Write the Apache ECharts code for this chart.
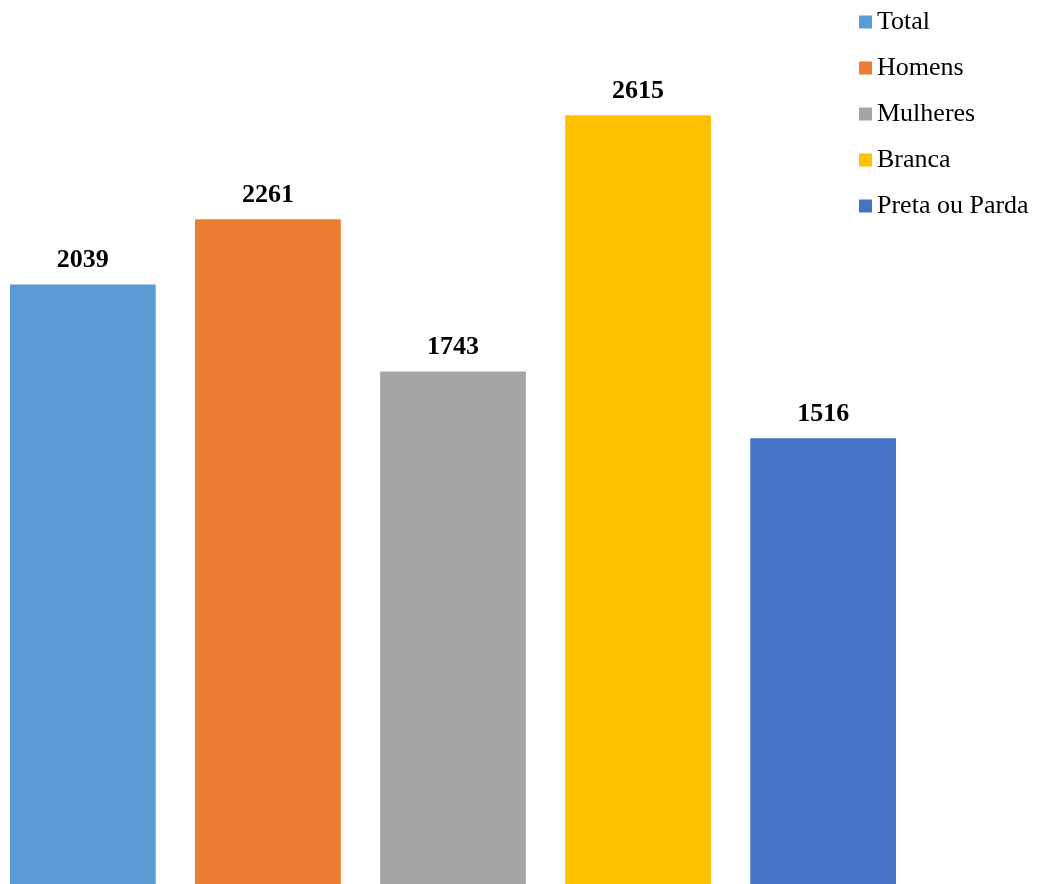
<!DOCTYPE html>
<html>
<head>
<meta charset="utf-8">
<script src="https://cdn.jsdelivr.net/npm/echarts@6/dist/echarts.min.js"></script>
<style>
  html, body { margin: 0; padding: 0; background: #ffffff; }
  #chart { width: 1043px; height: 884px; }
</style>
</head>
<body>
<div id="chart"></div>
<script>
// dados do gráfico
const seriesNames = ['Total', 'Homens', 'Mulheres', 'Branca', 'Preta ou Parda'];
const seriesValues = [2039, 2261, 1743, 2615, 1516];
const seriesColors = ['#5b9bd5', '#ed7d31', '#a5a5a5', '#ffc000', '#4472c4'];
const categories = [''];

const chart = echarts.init(document.getElementById('chart'));

const series = seriesNames.map(function (name, i) {
  return {
    name: name,
    type: 'bar',
    data: [seriesValues[i]],
    barGap: '27%',
    barCategoryGap: '0%',
    itemStyle: { color: seriesColors[i] },
    label: {
      show: true,
      position: 'top',
      distance: 11,
      color: '#000',
      fontFamily: 'Liberation Serif',
      fontWeight: 'bold',
      fontSize: 26
    }
  };
});

chart.setOption({
  backgroundColor: '#ffffff',
  animation: false,
  legend: {
    orient: 'vertical',
    left: 854,
    top: 4,
    itemWidth: 13,
    itemHeight: 13,
    itemGap: 20,
    icon: 'rect',
    textStyle: {
      color: '#000',
      fontFamily: 'Liberation Serif',
      fontSize: 26
    },
    data: seriesNames
  },
  grid: {
    left: 10,
    right: 147,
    top: 2,
    bottom: 0
  },
  xAxis: {
    type: 'category',
    data: categories,
    axisLine: { show: false },
    axisTick: { show: false },
    axisLabel: { show: false }
  },
  yAxis: {
    type: 'value',
    min: 0,
    max: 3000,
    show: false,
    splitLine: { show: false }
  },
  series: series
});
</script>
</body>
</html>
